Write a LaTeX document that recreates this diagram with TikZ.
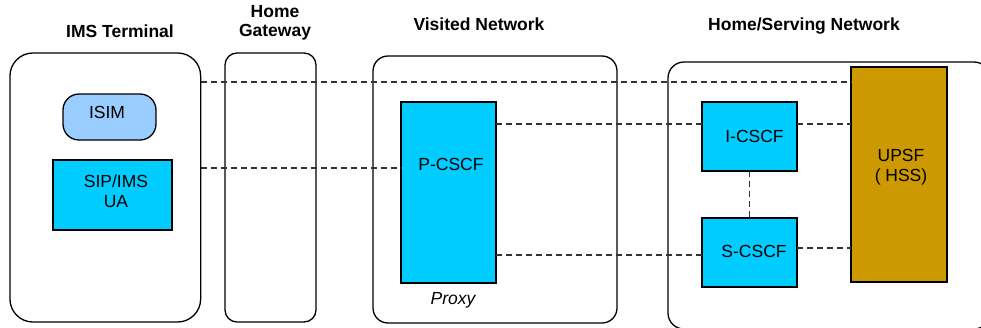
\documentclass[tikz,border=0pt]{standalone}
\usepackage{fontspec}
\setmainfont{Liberation Sans}
\definecolor{boxcyan}{HTML}{00CCFF}
\definecolor{simblue}{HTML}{99CCFF}
\definecolor{hssgold}{HTML}{CC9900}
\definecolor{dashgray}{HTML}{333333}
\tikzset{
  every node/.style={font=\fontsize{17.5}{19}\selectfont, inner sep=0pt, outer sep=0pt},
  title/.style={font=\fontsize{17.5}{19}\selectfont\bfseries, align=center},
  twoline/.style={font=\fontsize{17.5}{20.5}\selectfont, align=center},
  area/.style={draw=black, line width=1.3pt, minimum width=#1},
  fbox/.style={draw=black, line width=1.3pt, fill=boxcyan},
  link/.style={draw=dashgray, line width=1.2pt, dash pattern=on 6pt off 4pt},
}
\begin{document}
\begin{tikzpicture}[x=1pt, y=-1pt]
\clip (0,0) rectangle (981,327);
\useasboundingbox (0,0) rectangle (981,327);

% outer areas
\node[area=190.7pt, minimum height=269pt, rounded corners=23pt] (term) at (105.3,187.5) {};
\node[area=91pt, minimum height=269pt, rounded corners=12pt] (gw) at (270.5,187.5) {};
\node[area=244pt, minimum height=267pt, rounded corners=15pt] (visited) at (495,189.5) {};
\node[area=322pt, minimum height=267pt, rounded corners=16pt] (home) at (829,195.5) {};

% titles
\node[title, anchor=base] (tterm) at (120,37) {IMS Terminal};
\node[title] (tgw) at (275,23) {Home\\Gateway};
\node[title, anchor=base] (tvis) at (479,30) {Visited Network};
\node[title, anchor=base] (thome) at (804,30) {Home/Serving Network};

% inner boxes
\node[draw=black, line width=1.3pt, fill=simblue, rounded corners=16pt,
      minimum width=93pt, minimum height=46pt,
      label={[xshift=-2.5pt, yshift=5pt]center:ISIM}] (isim) at (109.5,117) {};
\node[fbox, minimum width=119pt, minimum height=70pt,
      label={[xshift=3.5pt, yshift=4pt, twoline]center:SIP/IMS\\UA}] (ua) at (112.5,195) {};
\node[fbox, minimum width=95pt, minimum height=181pt,
      label={[xshift=2.5pt, yshift=28.5pt]center:P-CSCF}] (pcscf) at (448.5,192.5) {};
\node[fbox, minimum width=95pt, minimum height=69pt,
      label={[xshift=5pt, yshift=0.5pt]center:I-CSCF}] (icscf) at (749.5,136.5) {};
\node[fbox, minimum width=95pt, minimum height=69pt,
      label={[xshift=4.5pt, yshift=1.5pt]center:S-CSCF}] (scscf) at (749.5,252.5) {};
\node[draw=black, line width=1.3pt, fill=hssgold, minimum width=96pt, minimum height=215pt,
      label={[xshift=2pt, yshift=7.5pt, twoline]center:UPSF\\( HSS)}] (upsf) at (899,174.5) {};

\node[anchor=base, font=\fontsize{17.5}{19}\selectfont\itshape] (proxy) at (453,304) {Proxy};

% levels of the dashed links
\coordinate (r1) at (0,82);
\coordinate (r2) at (0,168);
\coordinate (r3) at (0,124);
\coordinate (r4) at (0,255);
\coordinate (r5) at (0,248);

% dashed links
\draw[link] (term.east |- r1) -- (upsf.west |- r1);
\draw[link] (term.east |- r2) -- (pcscf.west |- r2);
\draw[link] (pcscf.east |- r3) -- (icscf.west |- r3);
\draw[link] (icscf.east |- r3) -- (upsf.west |- r3);
\draw[link] (pcscf.east |- r4) -- (scscf.west |- r4);
\draw[link] (scscf.east |- r5) -- (upsf.west |- r5);
\draw[link] (icscf.south) -- (scscf.north);
\end{tikzpicture}
\end{document}
